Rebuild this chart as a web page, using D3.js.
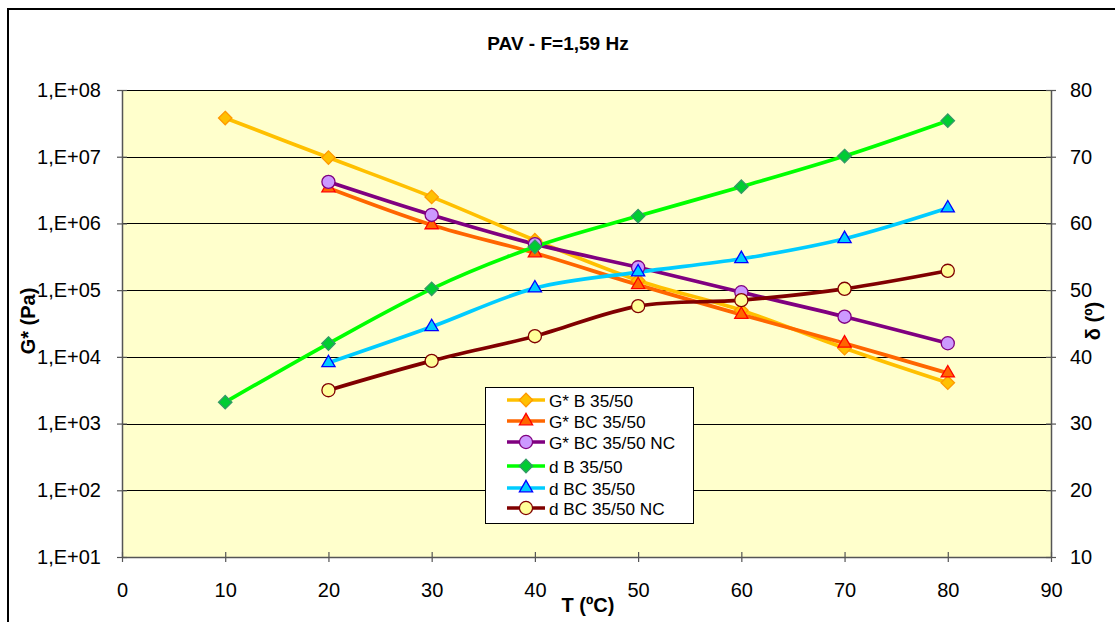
<!DOCTYPE html>
<html>
<head>
<meta charset="utf-8">
<script src="https://cdn.jsdelivr.net/npm/d3@7"></script>
<style>
  html, body { margin: 0; padding: 0; background: #fff; }
  svg { display: block; font-family: Arial, "Liberation Sans", sans-serif; }
</style>
</head>
<body>
<svg id="chart" width="1115" height="622"></svg>
<script>
// Temperature sweep (ºC)
const temps = [10, 20, 30, 40, 50, 60, 70, 80];

// Complex modulus G* (Pa), log axis on the left
const gB    = [3.8e7, 9.7e6, 2.5e6, 5.6e5, 1.4e5, 5.0e4, 1.35e4, 4.1e3];
const gBC   = [null, 3.4e6, 9.5e5, 3.6e5, 1.2e5, 4.3e4, 1.6e4, 5.7e3];
const gBCNC = [null, 4.2e6, 1.34e6, 4.9e5, 2.2e5, 9.3e4, 4.0e4, 1.6e4];

// Phase angle δ (º), linear axis on the right
const dB    = [33.2, 42.0, 50.2, 56.5, 61.1, 65.5, 70.1, 75.4];
const dBC   = [null, 39.1, 44.5, 50.3, 52.7, 54.7, 57.7, 62.3];
const dBCNC = [null, 35.0, 39.4, 43.1, 47.6, 48.5, 50.2, 52.9];

const xTicks = [0, 10, 20, 30, 40, 50, 60, 70, 80, 90];
const gTicks = [1e1, 1e2, 1e3, 1e4, 1e5, 1e6, 1e7, 1e8];
const gTickLabels = ["1,E+01", "1,E+02", "1,E+03", "1,E+04", "1,E+05", "1,E+06", "1,E+07", "1,E+08"];
const dTicks = [10, 20, 30, 40, 50, 60, 70, 80];

const seriesNames = ["G* B 35/50", "G* BC 35/50", "G* BC 35/50 NC", "d B 35/50", "d BC 35/50", "d BC 35/50 NC"];

const svg = d3.select("#chart");
const plot = { left: 122, right: 1051, top: 90, bottom: 557 };
const tickFont = 20;
const lineWidth = 3.7;

const x = d3.scaleLinear().domain([0, 90]).range([plot.left, plot.right]);
const yG = d3.scaleLog().domain([1e1, 1e8]).range([plot.bottom, plot.top]);
const yD = d3.scaleLinear().domain([10, 80]).range([plot.bottom, plot.top]);

// Outer chart frame
svg.append("rect")
  .attr("x", 8).attr("y", 9).attr("width", 1120).attr("height", 630)
  .attr("fill", "#fff").attr("stroke", "#000").attr("stroke-width", 2);

// Plot area
svg.append("rect")
  .attr("x", plot.left).attr("y", plot.top)
  .attr("width", plot.right - plot.left).attr("height", plot.bottom - plot.top)
  .attr("fill", "#FFFFCC");

// Horizontal gridlines at each decade
svg.append("g").selectAll("line").data(gTicks).join("line")
  .attr("x1", plot.left).attr("x2", plot.right)
  .attr("y1", d => Math.round(yG(d)) + 0.5).attr("y2", d => Math.round(yG(d)) + 0.5)
  .attr("stroke", "#000").attr("stroke-width", 1.2);

// Title
svg.append("text")
  .attr("x", 558).attr("y", 50).attr("text-anchor", "middle")
  .attr("font-size", 19).attr("font-weight", "bold")
  .text("PAV - F=1,59 Hz");

// Axes
const fmtG = d => gTickLabels[gTicks.indexOf(d)];
const leftAxis = d3.axisLeft(yG).tickValues(gTicks).tickFormat(fmtG).tickSizeInner(5).tickSizeOuter(0).tickPadding(16);
const rightAxis = d3.axisRight(yD).tickValues(dTicks).tickFormat(d3.format("d")).tickSizeInner(5).tickSizeOuter(0).tickPadding(14);
const bottomAxis = d3.axisBottom(x).tickValues(xTicks).tickFormat(d3.format("d")).tickSizeInner(5).tickSizeOuter(0);

function styleAxis(g) {
  g.select(".domain").attr("stroke", "#555").attr("stroke-width", 1.5);
  g.selectAll(".tick line").attr("stroke", "#555").attr("stroke-width", 1.2);
  g.selectAll(".tick text").attr("font-size", tickFont).attr("fill", "#000")
    .attr("font-family", "Arial, 'Liberation Sans', sans-serif");
}

const gl = svg.append("g").attr("transform", `translate(${plot.left},0)`).call(leftAxis).call(styleAxis);
gl.selectAll(".tick line").attr("x1", 5).attr("x2", -5);
const gr = svg.append("g").attr("transform", `translate(${plot.right},0)`).call(rightAxis).call(styleAxis);
gr.selectAll(".tick line").attr("x1", -5).attr("x2", 5);
const gb = svg.append("g").attr("transform", `translate(0,${plot.bottom})`).call(bottomAxis).call(styleAxis);
gb.selectAll(".tick line").attr("y1", -5).attr("y2", 5);
gb.selectAll(".tick text").attr("y", 40).attr("dy", 0);

// Axis titles
svg.append("text")
  .attr("transform", "translate(35,321) rotate(-90)").attr("text-anchor", "middle")
  .attr("font-size", 20).attr("font-weight", "bold").text("G* (Pa)");
svg.append("text")
  .attr("transform", "translate(1100,321) rotate(-90)").attr("text-anchor", "middle")
  .attr("font-size", 20).attr("font-weight", "bold").text("δ (º)");
svg.append("text")
  .attr("x", 588).attr("y", 612).attr("text-anchor", "middle")
  .attr("font-size", 20).attr("font-weight", "bold").text("T (ºC)");

// Marker symbols
const sym = {
  diamond: d3.symbol().type(d3.symbolDiamond2).size(115),
  triangle: d3.symbol().type(d3.symbolTriangle2).size(125),
  circle: d3.symbol().type(d3.symbolCircle).size(135)
};

const series = [
  { name: seriesNames[0], values: gB,    y: yG, line: "#FFC000", fill: "#FFC000", stroke: "#FF9900", marker: "diamond" },
  { name: seriesNames[1], values: gBC,   y: yG, line: "#FF6600", fill: "#FF6600", stroke: "#FF0000", marker: "triangle" },
  { name: seriesNames[2], values: gBCNC, y: yG, line: "#800080", fill: "#CC99FF", stroke: "#800080", marker: "circle" },
  { name: seriesNames[3], values: dB,    y: yD, line: "#00FF00", fill: "#00CC33", stroke: "#339966", marker: "diamond" },
  { name: seriesNames[4], values: dBC,   y: yD, line: "#00CCFF", fill: "#00CCFF", stroke: "#0000FF", marker: "triangle" },
  { name: seriesNames[5], values: dBCNC, y: yD, line: "#800000", fill: "#FFFF99", stroke: "#800000", marker: "circle" }
];

const curves = svg.append("g");
const markers = svg.append("g");

series.forEach(s => {
  const pts = temps.map((t, i) => ({ t, v: s.values[i] })).filter(p => p.v != null);
  const line = d3.line().x(p => x(p.t)).y(p => s.y(p.v)).curve(d3.curveCatmullRom.alpha(0));
  curves.append("path").datum(pts)
    .attr("d", line).attr("fill", "none")
    .attr("stroke", s.line).attr("stroke-width", lineWidth).attr("stroke-linejoin", "round");
  markers.append("g").selectAll("path").data(pts).join("path")
    .attr("transform", p => `translate(${x(p.t)},${s.y(p.v)})`)
    .attr("d", sym[s.marker]())
    .attr("fill", s.fill).attr("stroke", s.stroke).attr("stroke-width", 1.3);
});

// Legend
const lg = svg.append("g");
lg.append("rect").attr("x", 485.5).attr("y", 387.5).attr("width", 208).attr("height", 136)
  .attr("fill", "#fff").attr("stroke", "#000").attr("stroke-width", 1);
const rowY = [400, 421, 442, 466, 488, 508];
series.forEach((s, i) => {
  const yy = rowY[i];
  lg.append("line").attr("x1", 507).attr("x2", 545).attr("y1", yy).attr("y2", yy)
    .attr("stroke", s.line).attr("stroke-width", lineWidth);
  lg.append("path").attr("transform", `translate(526,${yy})`)
    .attr("d", sym[s.marker]())
    .attr("fill", s.fill).attr("stroke", s.stroke).attr("stroke-width", 1.3);
  lg.append("text").attr("x", 549).attr("y", yy + 6.5)
    .attr("font-size", 17.2).text(s.name);
});
</script>
</body>
</html>
